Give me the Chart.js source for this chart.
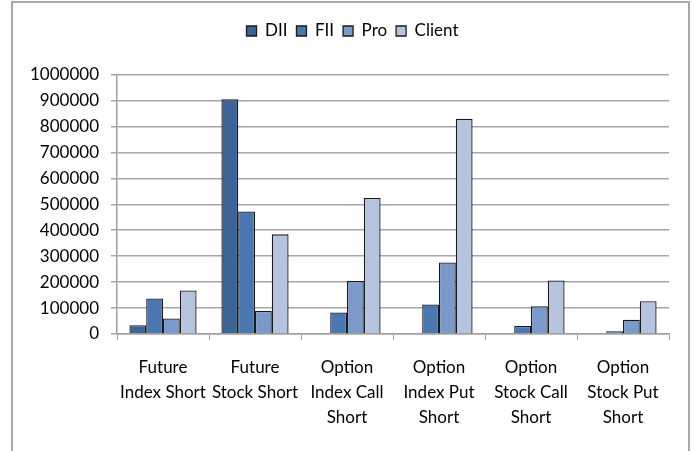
<!DOCTYPE html>
<html>
<head>
<meta charset="utf-8">
<script src="https://cdn.jsdelivr.net/npm/chart.js@4"></script>
<style>
  html, body { margin: 0; padding: 0; background: #fff; }
  #wrap { width: 695px; height: 451px; position: relative; }
</style>
</head>
<body>
<div id="wrap"><canvas id="c" width="695" height="451"></canvas></div>
<script>
// Short positions by participant type
const categories = [
  ["Future", "Index Short"],
  ["Future", "Stock Short"],
  ["Option", "Index Call", "Short"],
  ["Option", "Index Put", "Short"],
  ["Option", "Stock Call", "Short"],
  ["Option", "Stock Put", "Short"]
];
const seriesNames = ["DII", "FII", "Pro", "Client"];
const diiValues    = [34000, 905000, 0, 0, 0, 0];
const fiiValues    = [137000, 472000, 83000, 114000, 31000, 11000];
const proValues    = [60000, 89000, 204000, 276000, 107000, 55000];
const clientValues = [168000, 384000, 524000, 829000, 206000, 126000];
const yMin = 0, yMax = 1000000, yStep = 100000;

const fills = ["#3c6497", "#4a77b2", "#7a9acc", "#b5c4de"];
const values = [diiValues, fiiValues, proValues, clientValues];
const FONT = 'Lato';

// Outer frame around the chart
const framePlugin = {
  id: 'frame',
  beforeDraw(chart) {
    const ctx = chart.ctx;
    ctx.save();
    ctx.fillStyle = '#ffffff';
    ctx.fillRect(0, 0, chart.width, chart.height);
    ctx.strokeStyle = '#a8a8a8';
    ctx.lineWidth = 2;
    ctx.beginPath();
    ctx.moveTo(12, chart.height + 2);
    ctx.lineTo(12, 2);
    ctx.lineTo(689, 2);
    ctx.lineTo(689, chart.height + 2);
    ctx.stroke();
    ctx.restore();
  }
};

// Extra room below the legend, and legend centred over the plot area
const legendTweak = {
  id: 'legendTweak',
  afterInit(chart) {
    const lg = chart.legend;
    if (!lg) return;
    const fit = lg.fit;
    lg.fit = function () {
      fit.call(this);
      this.height += 25;
    };
    const draw = lg.draw;
    lg.draw = function () {
      const ctx = this.ctx;
      ctx.save();
      ctx.translate(18, 0);
      draw.call(this);
      ctx.restore();
    };
  }
};

new Chart(document.getElementById('c'), {
  type: 'bar',
  data: {
    labels: categories,
    datasets: seriesNames.map((name, i) => ({
      label: name,
      data: values[i],
      backgroundColor: fills[i],
      borderColor: '#1a1a1a',
      borderWidth: 1.3,
      borderSkipped: 'bottom',
      categoryPercentage: 0.73,
      barPercentage: 1.0
    }))
  },
  options: {
    responsive: false,
    animation: false,
    devicePixelRatio: 1,
    layout: { padding: { top: 13.5, left: 0, right: 26, bottom: 0 } },
    plugins: {
      tooltip: { enabled: false },
      legend: {
        position: 'top',
        labels: {
          boxWidth: 10,
          boxHeight: 10,
          padding: 9,
          color: '#000',
          font: { family: FONT, size: 17 }
        }
      }
    },
    scales: {
      x: {
        offset: true,
        grid: {
          offset: true,
          drawOnChartArea: false,
          drawTicks: true,
          tickLength: 6,
          color: '#a0a0a0'
        },
        border: { display: true, color: '#a0a0a0', width: 1.5 },
        ticks: {
          color: '#000',
          padding: 15.5,
          maxRotation: 0,
          autoSkip: false,
          font: { family: FONT, size: 17, lineHeight: 1.47 }
        },
        afterFit(scale) { scale.height = 117; }
      },
      y: {
        min: yMin,
        max: yMax,
        grid: {
          color: '#a6a6a6',
          lineWidth: 1.5,
          drawTicks: true,
          tickLength: 6
        },
        border: { display: true, color: '#a0a0a0', width: 1.5 },
        ticks: {
          stepSize: yStep,
          color: '#000',
          padding: 12,
          font: { family: FONT, size: 17 },
          callback: v => String(v)
        },
        afterFit(scale) { scale.width = 117; }
      }
    }
  },
  plugins: [framePlugin, legendTweak]
});
</script>
</body>
</html>
